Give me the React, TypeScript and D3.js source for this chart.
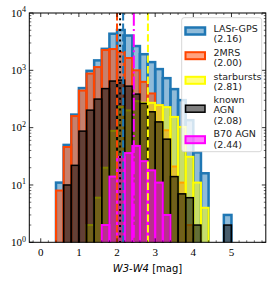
import React from "react";
import * as d3 from "d3";

const binStarts = [0.4, 0.6, 0.8, 1.0, 1.2, 1.4, 1.6, 1.8, 2.0, 2.2, 2.4, 2.6, 2.8, 3.0, 3.2, 3.4, 3.6, 3.8, 4.0, 4.2, 4.4, 4.6, 4.8];
const binWidth = 0.2;

const lasrGPS = [11, 50, 169, 490, 980, 1490, 2370, 4350, 5050, 4050, 2650, 1910, 1390, 1050, 730, 470, 302, 135, 37, 16, 0, 0, 3];
const twoMRS = [8, 46, 159, 443, 877, 1140, 2260, 2350, 2080, 1640, 1000, 630, 395, 245, 90, 21, 11, 2, 0, 0, 0, 0, 0];
const starbursts = [0, 0, 0, 0, 2, 6, 20, 88, 230, 200, 290, 271, 271, 247, 228, 154, 103, 31, 11, 4, 0, 0, 0];
const knownAGN = [0, 10, 22, 87, 202, 315, 480, 650, 675, 530, 385, 265, 189, 126, 63, 14, 7, 6, 2, 0, 0, 0, 2];
const b70AGN = [0, 0, 0, 0, 0, 0, 2, 14, 31, 36, 48, 26, 18, 11, 3, 0, 0, 0, 0, 0, 0, 0, 0];

const seriesNames = ["LASr-GPS", "2MRS", "starbursts", "known AGN", "B70 AGN"];
const legendLines = [["LASr-GPS", "(2.16)"], ["2MRS", "(2.00)"], ["starbursts", "(2.81)"], ["known", "AGN", "(2.08)"], ["B70 AGN", "(2.44)"]];
const medians = [2.16, 2.0, 2.81, 2.08, 2.44];

const xTicks = [0, 1, 2, 3, 4, 5];
const yTickExps = [0, 1, 2, 3, 4];

const W = 274, H = 283;
const L = 29.3, R = 265.8, T = 13, B = 242.3;

const colors = ["#1f77b4", "#ff4500", "#ffff00", "#000000", "#ff00ff"];
const edgeW = [2.5, 2, 2, 1.5, 2];
const dashes = ["7.4,3.2", "7.4,3.2", "7.4,3.2", "2,3.3", "12.8,3.2,2,3.2"];

export default function App() {
  const x = d3.scaleLinear().domain([-0.3, 5.9]).range([L, R]);
  const y = d3.scaleLog().domain([1, 1e4]).range([B, T]);
  const data = [lasrGPS, twoMRS, starbursts, knownAGN, b70AGN];

  const xMinor = d3.range(-0.2, 5.9, 0.2).filter((v) => Math.abs(v - Math.round(v)) > 1e-6);
  const yMinor: number[] = [];
  for (let e = 0; e < 4; e++) for (let m = 2; m <= 9; m++) yMinor.push(m * Math.pow(10, e));

  const legendBase = [[31.5, 42], [55.5, 66], [79.5, 90], [102.5, 113, 123.5], [137, 147.5]];
  const patchCenter = [31, 55.7, 80.3, 108.7, 139.7];

  return (
    <svg width={W} height={H} style={{ position: "absolute", left: 0, top: 0 }}>
      <defs>
        <clipPath id="plotclip">
          <rect x={L} y={T} width={R - L} height={B - T} />
        </clipPath>
      </defs>
      <rect x={0} y={0} width={W} height={H} fill="white" />
      <g clipPath="url(#plotclip)">
        {data.map((counts, si) => (
          <g key={si}>
            {counts.map((c, i) =>
              c > 0 ? (
                <rect
                  key={i}
                  x={x(binStarts[i])}
                  y={y(Math.max(c, 1))}
                  width={x(binStarts[i] + binWidth) - x(binStarts[i])}
                  height={Math.max(0, B + 3 - y(Math.max(c, 1)))}
                  fill={colors[si]}
                  fillOpacity={0.5}
                  stroke={colors[si]}
                  strokeWidth={edgeW[si]}
                />
              ) : null
            )}
          </g>
        ))}
        {medians.map((m, i) => (
          <line key={i} x1={x(m)} x2={x(m)} y1={T} y2={B} stroke={colors[i]} strokeWidth={2} strokeDasharray={dashes[i]} />
        ))}
      </g>
      {/* frame */}
      <rect x={L} y={T} width={R - L} height={B - T} fill="none" stroke="black" strokeWidth={1} />
      {/* x ticks */}
      {xTicks.map((t) => (
        <g key={t}>
          <line x1={x(t)} x2={x(t)} y1={B} y2={B - 4} stroke="black" strokeWidth={0.8} />
          <line x1={x(t)} x2={x(t)} y1={T} y2={T + 4} stroke="black" strokeWidth={0.8} />
          <text x={x(t)} y={256} textAnchor="middle" fontFamily="'Liberation Serif', serif" fontSize={11}>{t}</text>
        </g>
      ))}
      {xMinor.map((t, i) => (
        <g key={i}>
          <line x1={x(t)} x2={x(t)} y1={B} y2={B - 2} stroke="black" strokeWidth={0.6} />
          <line x1={x(t)} x2={x(t)} y1={T} y2={T + 2} stroke="black" strokeWidth={0.6} />
        </g>
      ))}
      {/* y ticks */}
      {yTickExps.map((e) => (
        <g key={e}>
          <line x1={L} x2={L + 4} y1={y(Math.pow(10, e))} y2={y(Math.pow(10, e))} stroke="black" strokeWidth={0.8} />
          <line x1={R} x2={R - 4} y1={y(Math.pow(10, e))} y2={y(Math.pow(10, e))} stroke="black" strokeWidth={0.8} />
          <text x={26} y={y(Math.pow(10, e)) + 3.7} textAnchor="end" fontFamily="'Liberation Serif', serif" fontSize={11}>
            10<tspan dy={-4.5} fontSize={8}>{e}</tspan>
          </text>
        </g>
      ))}
      {yMinor.map((v, i) => (
        <g key={i}>
          <line x1={L} x2={L + 2} y1={y(v)} y2={y(v)} stroke="black" strokeWidth={0.6} />
          <line x1={R} x2={R - 2} y1={y(v)} y2={y(v)} stroke="black" strokeWidth={0.6} />
        </g>
      ))}
      {/* x label */}
      <text x={147.5} y={271.5} textAnchor="middle" fontFamily="'DejaVu Sans', sans-serif" fontSize={10}>
        <tspan fontStyle="italic">W3</tspan><tspan>-</tspan><tspan fontStyle="italic">W4</tspan><tspan> [mag]</tspan>
      </text>
      {/* legend */}
      <rect x={181.7} y={17.7} width={80} height={134} rx={2.5} fill="white" fillOpacity={0.8} stroke="#cccccc" strokeWidth={0.8} />
      {seriesNames.map((n, i) => (
        <g key={n}>
          <rect x={185.5} y={patchCenter[i] - 3.5} width={19.5} height={7} fill={colors[i]} fillOpacity={0.5} stroke={colors[i]} strokeWidth={edgeW[i]} />
          {legendLines[i].map((ln, j) => (
            <text key={j} x={213.5} y={legendBase[i][j]} fontFamily="'DejaVu Sans', sans-serif" fontSize={9.5} fill="#222">{ln}</text>
          ))}
        </g>
      ))}
    </svg>
  );
}
